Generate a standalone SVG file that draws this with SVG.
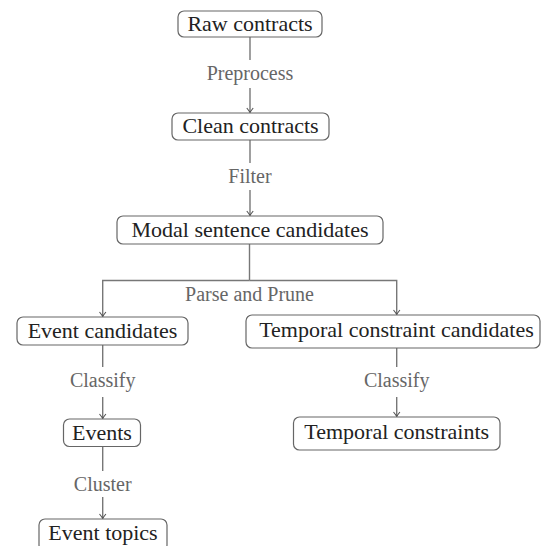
<svg xmlns="http://www.w3.org/2000/svg" width="542" height="546" viewBox="0 0 542 546">
<style>
  .node rect { fill: #ffffff; stroke: #666666; stroke-width: 1.2; }
  .node text { font-family: "Liberation Serif", "Times New Roman", serif; font-size: 22px; fill: #222222; text-anchor: middle; }
  .edge { fill: none; stroke: #777777; stroke-width: 1.4; }
  .lbl { font-family: "Liberation Serif", "Times New Roman", serif; font-size: 20px; fill: #666666; text-anchor: middle; }
</style>
<defs>
  <marker id="arr" markerUnits="userSpaceOnUse" markerWidth="10" markerHeight="10" viewBox="-6 -5 8 10" refX="0" refY="0" orient="auto">
    <path d="M -4.5,-3.2 Q -1.2,-0.6 0,0 Q -1.2,0.6 -4.5,3.2" fill="none" stroke="#555555" stroke-width="1.1"/>
  </marker>
</defs>
<rect width="542" height="546" fill="#ffffff"/>
<g id="connectors">
  <line class="edge" x1="250" y1="37" x2="250" y2="60"/>
  <line class="edge" x1="250" y1="88" x2="250" y2="112.5" marker-end="url(#arr)"/>
  <text class="lbl" x="250" y="80">Preprocess</text>

  <line class="edge" x1="250" y1="140" x2="250" y2="163"/>
  <line class="edge" x1="250" y1="190" x2="250" y2="215.5" marker-end="url(#arr)"/>
  <text class="lbl" x="250" y="183">Filter</text>

  <line class="edge" x1="249.5" y1="244" x2="249.5" y2="280.5"/>
  <path class="edge" d="M 249.5,280.5 L 396.7,280.5 L 396.7,314.5" marker-end="url(#arr)"/>
  <path class="edge" d="M 249.5,280.5 L 102.7,280.5 L 102.7,316.5" marker-end="url(#arr)"/>
  <text class="lbl" x="249.5" y="301">Parse and Prune</text>

  <line class="edge" x1="102.7" y1="345" x2="102.7" y2="367"/>
  <line class="edge" x1="102.7" y1="397" x2="102.7" y2="418.5" marker-end="url(#arr)"/>
  <text class="lbl" x="102.7" y="387">Classify</text>

  <line class="edge" x1="396.7" y1="348" x2="396.7" y2="367"/>
  <line class="edge" x1="396.7" y1="397" x2="396.7" y2="416.5" marker-end="url(#arr)"/>
  <text class="lbl" x="396.7" y="387">Classify</text>

  <line class="edge" x1="102.7" y1="447" x2="102.7" y2="471"/>
  <line class="edge" x1="102.7" y1="497" x2="102.7" y2="518.5" marker-end="url(#arr)"/>
  <text class="lbl" x="102.7" y="491">Cluster</text>
</g>
<g id="raw-contracts" class="node">
  <rect x="178" y="11" width="144" height="26" rx="6"/>
  <text x="250" y="31">Raw contracts</text>
</g>
<g id="clean-contracts" class="node">
  <rect x="172" y="113" width="157" height="27" rx="6"/>
  <text x="250.5" y="133">Clean contracts</text>
</g>
<g id="modal-sentence-candidates" class="node">
  <rect x="117" y="216" width="266" height="28" rx="6"/>
  <text x="250" y="237">Modal sentence candidates</text>
</g>
<g id="event-candidates" class="node">
  <rect x="17" y="317" width="171" height="28" rx="6"/>
  <text x="102.5" y="338">Event candidates</text>
</g>
<g id="temporal-constraint-candidates" class="node">
  <rect x="246" y="315" width="294" height="33" rx="6"/>
  <text x="396.5" y="337">Temporal constraint candidates</text>
</g>
<g id="events" class="node">
  <rect x="63.5" y="419" width="77" height="27.5" rx="6"/>
  <text x="102" y="440">Events</text>
</g>
<g id="temporal-constraints" class="node">
  <rect x="293.5" y="417" width="206.5" height="33" rx="6"/>
  <text x="396.7" y="439">Temporal constraints</text>
</g>
<g id="event-topics" class="node">
  <rect x="39" y="519" width="128" height="32" rx="6"/>
  <text x="103" y="540">Event topics</text>
</g>
</svg>
